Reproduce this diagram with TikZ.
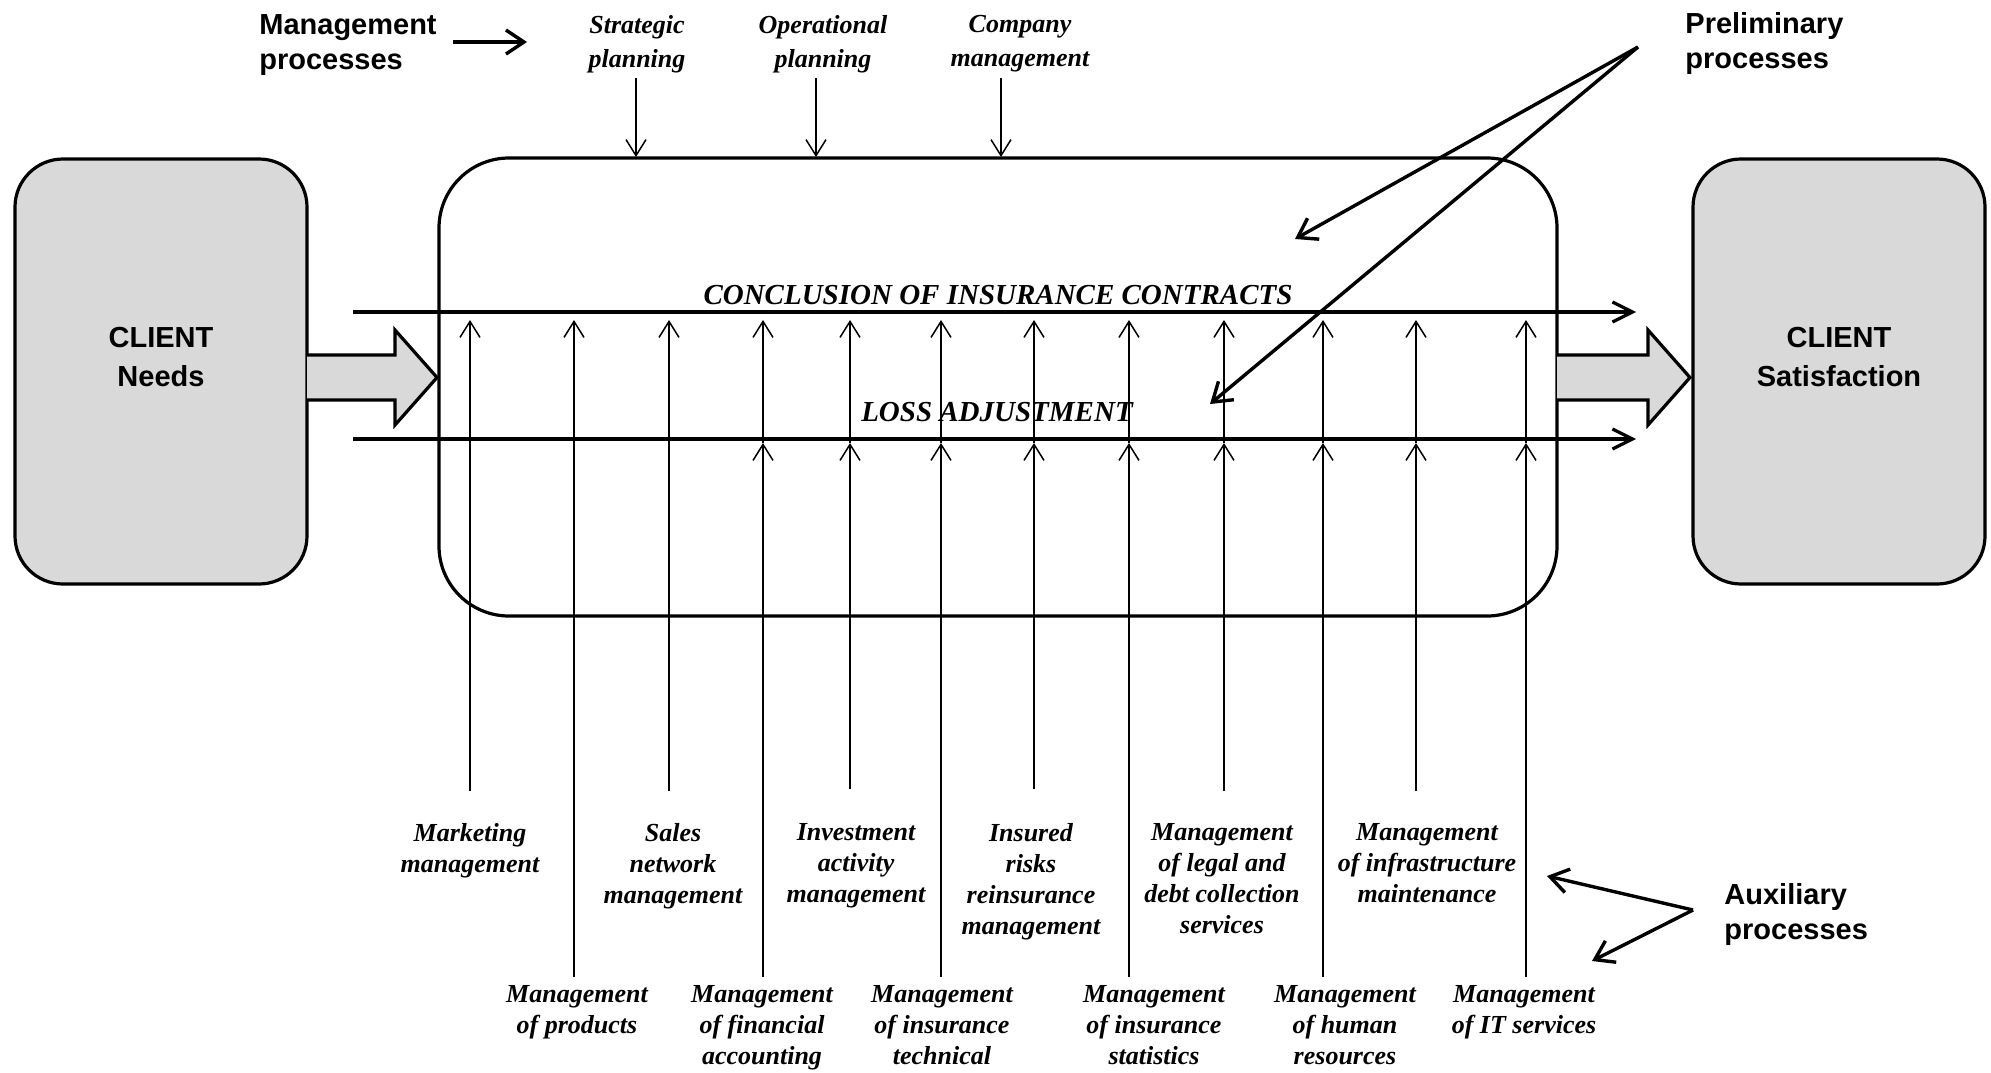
\documentclass[tikz,border=0pt]{standalone}
\usepackage{fontspec}
\setmainfont{Liberation Serif}
\setsansfont{Liberation Sans}
\usetikzlibrary{arrows.meta}
\definecolor{boxgray}{RGB}{217,217,217}
\begin{document}
\begin{tikzpicture}[x=0.5pt,y=-0.5pt,
  clientbox/.style={draw, line width=1.6pt, fill=boxgray, rounded corners=24pt,
    minimum width=146pt, minimum height=212.5pt, inner sep=0pt},
  mainbox/.style={draw, line width=1.6pt, rounded corners=35pt,
    minimum width=559pt, minimum height=229pt, inner sep=0pt},
  clienttext/.style={font=\sffamily\bfseries\fontsize{14.5}{19.5}\selectfont, align=center, inner sep=0pt},
  sanslabel/.style={font=\sffamily\bfseries\fontsize{14.5}{17.5}\selectfont, align=left, inner sep=0pt, anchor=north west},
  toplabel/.style={font=\fontsize{13}{17}\selectfont\bfseries\itshape, align=center, inner sep=0pt, anchor=north},
  sublabel/.style={font=\fontsize{13}{15.5}\selectfont\bfseries\itshape, align=center, inner sep=0pt, anchor=north},
  flowlabel/.style={font=\fontsize{14.5}{17}\selectfont\bfseries\itshape, inner sep=0pt},
  thinarrow/.style={line width=0.75pt, -{Straight Barb[length=8pt,width=10pt]}},
  flowarrow/.style={line width=1.6pt, -{Straight Barb[length=10pt,width=10pt]}},
  boldarrow/.style={line width=1.7pt, -{Straight Barb[length=9pt,width=12pt]}},
  bigarrow/.style={line width=1.6pt, line join=miter},
]
\useasboundingbox (0,0) rectangle (1991,1072);
\fill[white] (0,0) rectangle (1991,1072);

% boxes
\node[mainbox] (proc) at (998,387) {};
\node[clientbox] (needs) at (161,371.5) {};
\node[clientbox] (satis) at (1839,371.5) {};
\node[clienttext] (needstext) at (161,357.5) {CLIENT\\Needs};
\node[clienttext] (satistext) at (1839,357.5) {CLIENT\\Satisfaction};

% big arrows
\fill[boxgray] (307,355) -- (395,355) -- (395,330) -- (437,377.5) -- (395,425) -- (395,400) -- (307,400) -- cycle;
\draw[bigarrow] (307,355) -- (395,355) -- (395,330) -- (437,377.5) -- (395,425) -- (395,400) -- (307,400);
\fill[boxgray] (1557,355) -- (1648,355) -- (1648,330) -- (1690,377.5) -- (1648,425) -- (1648,400) -- (1557,400) -- cycle;
\draw[bigarrow] (1557,355) -- (1648,355) -- (1648,330) -- (1690,377.5) -- (1648,425) -- (1648,400) -- (1557,400);

% flow lines
\coordinate (c0) at (353,312);
\coordinate (c1) at (1636,312);
\coordinate (l0) at (353,439);
\coordinate (l1) at (1636,439);
\draw[flowarrow] (c0) -- (c1);
\draw[flowarrow] (l0) -- (l1);
\node[flowlabel] (conclusion) at (998,295) {CONCLUSION OF INSURANCE CONTRACTS};
\node[flowlabel] (loss) at (997,412) {LOSS ADJUSTMENT};

% vertical arrows
\foreach \i/\x/\yb/\dbl in {1/470/791/0, 2/574/977/0, 3/669/791/0, 4/763/977/1,
  5/850/789/1, 6/941/977/1, 7/1034/789/1, 8/1129/977/1, 9/1224/791/1,
  10/1323/977/1, 11/1416/791/1, 12/1526/977/1}{
  \coordinate (s\i) at (\x,\yb);
  \coordinate (m\i) at (\x,443);
  \coordinate (t\i) at (\x,320);
  \ifnum\dbl=1
    \draw[thinarrow] (s\i) -- (m\i);
    \draw[thinarrow] (m\i) -- (t\i);
  \else
    \draw[thinarrow] (s\i) -- (t\i);
  \fi
}

% auxiliary labels, upper row
\node[sublabel] (marketing) at (470,823) {Marketing\\management};
\node[sublabel] (sales) at (673,823) {Sales\\network\\management};
\node[sublabel] (invest) at (856,823) {Investment\\activity\\management};
\node[sublabel] (reins) at (1031,823) {Insured\\risks\\reinsurance\\management};
\node[sublabel] (legal) at (1222,823) {Management\\of legal and\\debt collection\\services};
\node[sublabel] (infra) at (1427,823) {Management\\of infrastructure\\maintenance};
% lower row
\node[sublabel] (products) at (577,985) {Management\\of products};
\node[sublabel] (finance) at (762,985) {Management\\of financial\\accounting};
\node[sublabel] (technical) at (942,985) {Management\\of insurance\\technical};
\node[sublabel] (statistics) at (1154,985) {Management\\of insurance\\statistics};
\node[sublabel] (human) at (1345,985) {Management\\of human\\resources};
\node[sublabel] (it) at (1524,985) {Management\\of IT services};

% management processes
\node[sanslabel] (mgmt) at (259,14) {Management\\processes};
\coordinate (ma0) at (453,42);
\coordinate (ma1) at (527,42);
\draw[boldarrow] (ma0) -- (ma1);
\node[toplabel] (strat) at (637,15) {Strategic\\planning};
\node[toplabel] (oper) at (823,15) {Operational\\planning};
\node[toplabel] (comp) at (1020,15) {Company\\management};
\coordinate (sa0) at (636,78); \coordinate (sa1) at (636,157);
\coordinate (oa0) at (816,78); \coordinate (oa1) at (816,157);
\coordinate (ca0) at (1001,78); \coordinate (ca1) at (1001,157);
\draw[thinarrow] (sa0) -- (sa1);
\draw[thinarrow] (oa0) -- (oa1);
\draw[thinarrow] (ca0) -- (ca1);

% preliminary processes
\node[sanslabel] (prelim) at (1685,12) {Preliminary\\processes};
\coordinate (pa) at (1638,47);
\coordinate (p1) at (1295,239);
\coordinate (p2) at (1210,404);
\draw[boldarrow] (pa) -- (p1);
\draw[boldarrow] (pa) -- (p2);

% auxiliary processes
\node[sanslabel] (aux) at (1724,883) {Auxiliary\\processes};
\coordinate (xa) at (1693,910);
\coordinate (x1) at (1547,876);
\coordinate (x2) at (1592,961);
\draw[boldarrow] (xa) -- (x1);
\draw[boldarrow] (xa) -- (x2);
\end{tikzpicture}
\end{document}
